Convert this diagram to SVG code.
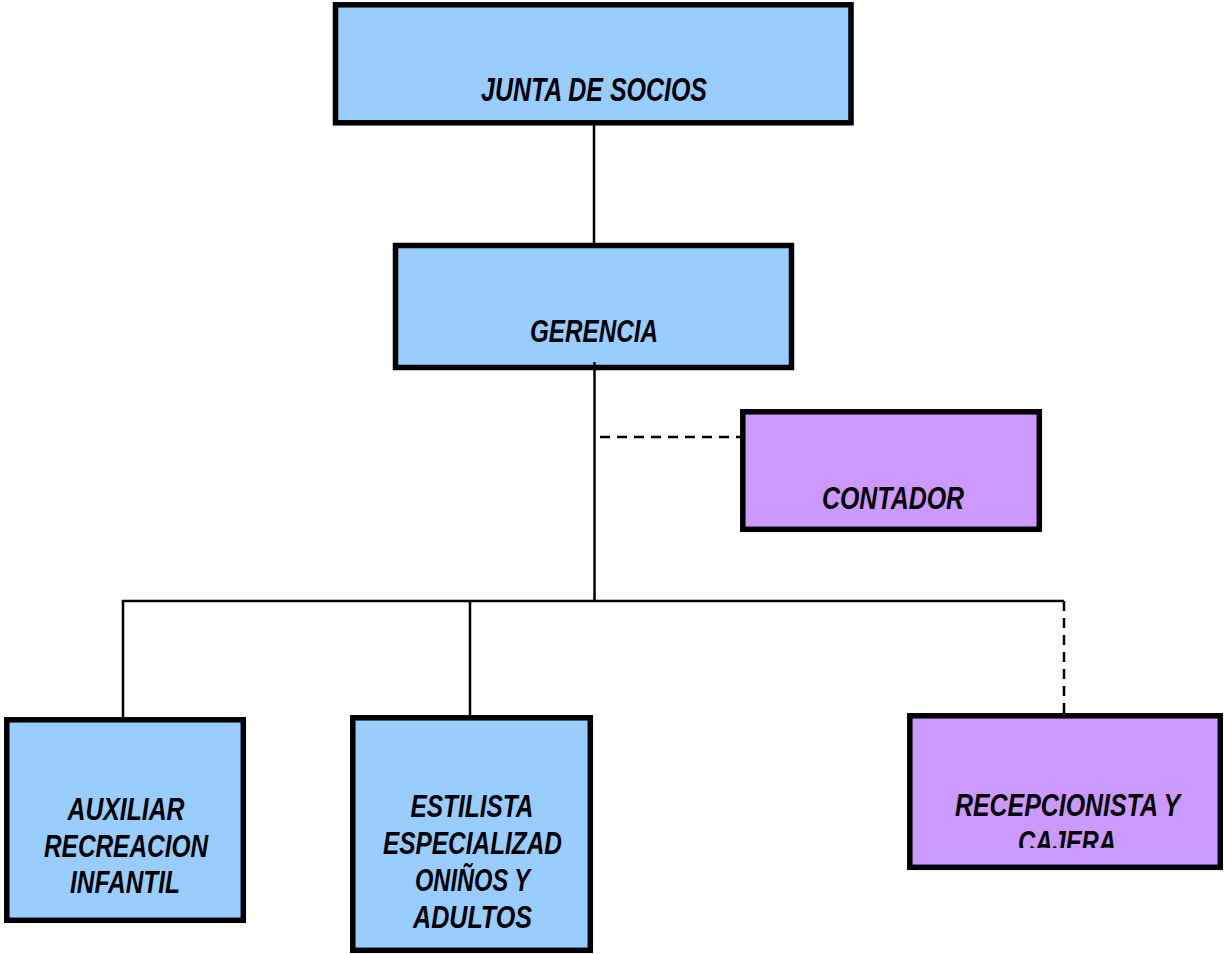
<svg xmlns="http://www.w3.org/2000/svg" width="1224" height="954" viewBox="0 0 1224 954">
<style>
.box{stroke:#000;stroke-width:5.5}
.blue{fill:#99CCFF}
.purple{fill:#CC99FF}
.t{font-family:"Liberation Sans",Arial,sans-serif;font-weight:bold;font-style:italic;font-size:32px;fill:#000;text-anchor:middle}
.big{font-size:34px}
.ln{stroke:#000;stroke-width:2.5;fill:none}
.dash{stroke-dasharray:10 7}
</style>
<defs>
<clipPath id="clipRecep"><rect x="907" y="713" width="317" height="135"/></clipPath>
</defs>
<rect width="1224" height="954" fill="#fff"/>
<g id="junta">
<rect class="box blue" x="335.5" y="4.8" width="515.5" height="118"/>
<text class="t big" x="594" y="101" textLength="226" lengthAdjust="spacingAndGlyphs">JUNTA DE SOCIOS</text>
</g>
<g id="gerencia">
<rect class="box blue" x="395.5" y="245.5" width="396" height="122"/>
<text class="t" x="594" y="342" textLength="128" lengthAdjust="spacingAndGlyphs">GERENCIA</text>
</g>
<g id="contador">
<rect class="box purple" x="742.8" y="411.8" width="296.5" height="117.5"/>
<text class="t" x="893" y="509" textLength="142" lengthAdjust="spacingAndGlyphs">CONTADOR</text>
</g>
<g id="auxiliar">
<rect class="box blue" x="6.8" y="719.8" width="236.5" height="200.5"/>
<text class="t" x="126" y="820" textLength="117" lengthAdjust="spacingAndGlyphs">AUXILIAR</text>
<text class="t" x="126" y="857" textLength="164" lengthAdjust="spacingAndGlyphs">RECREACION</text>
<text class="t" x="125" y="893" textLength="110" lengthAdjust="spacingAndGlyphs">INFANTIL</text>
</g>
<g id="estilista">
<rect class="box blue" x="352.8" y="717.8" width="237.5" height="232.5"/>
<text class="t" x="472" y="817" textLength="123" lengthAdjust="spacingAndGlyphs">ESTILISTA</text>
<text class="t" x="472.5" y="854" textLength="179" lengthAdjust="spacingAndGlyphs">ESPECIALIZAD</text>
<text class="t" x="472.5" y="891" textLength="115" lengthAdjust="spacingAndGlyphs">ONIÑOS Y</text>
<text class="t" x="472.5" y="928" textLength="119" lengthAdjust="spacingAndGlyphs">ADULTOS</text>
</g>
<g id="recepcionista">
<rect class="box purple" x="909.8" y="715.8" width="310.5" height="151.5"/>
<g clip-path="url(#clipRecep)">
<text class="t" x="1067.5" y="816" textLength="225" lengthAdjust="spacingAndGlyphs">RECEPCIONISTA Y</text>
<text class="t" x="1067" y="853" textLength="98" lengthAdjust="spacingAndGlyphs">CAJERA</text>
</g>
</g>
<g id="connectors">
<line class="ln" x1="594" y1="125" x2="594" y2="243"/>
<line class="ln" x1="594.5" y1="362" x2="594.5" y2="601"/>
<line class="ln dash" x1="600" y1="437" x2="740" y2="437"/>
<polyline class="ln" points="123,717 123,601 1064,601"/>
<line class="ln" x1="470" y1="601" x2="470" y2="715"/>
<line class="ln dash" x1="1064" y1="601" x2="1064" y2="713"/>
</g>
</svg>
